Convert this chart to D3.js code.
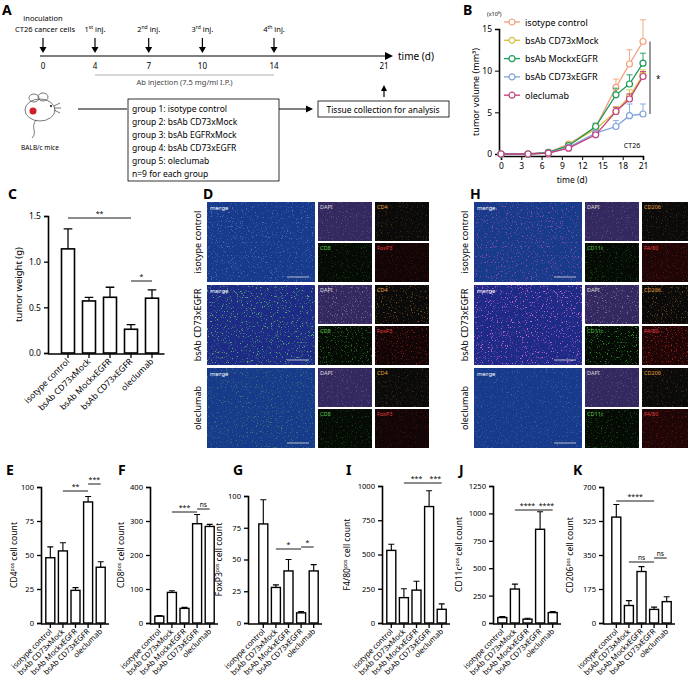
<!DOCTYPE html>
<html><head><meta charset="utf-8">
<script src="https://cdn.jsdelivr.net/npm/d3@7"></script>
<style>body{margin:0;background:#fff}svg{font-family:"Noto Sans",sans-serif}</style>
</head><body>
<svg id="fig" width="688" height="688"></svg>
<script>
(function(){
  'use strict';

  // ---- data ----
  var groups = ["isotype control","bsAb CD73xMock","bsAb MockxEGFR","bsAb CD73xEGFR","oleclumab"];
  var groupColors = ["#f2a07b","#d8c03c","#1f9a5a","#7fa2dc","#c0407e"];

  var schedDays = [0,4,7,10,14,21];
  var injLabels = [["1","st"],["2","nd"],["3","rd"],["4","th"]];
  var groupLines = ["group 1: isotype control","group 2: bsAb CD73xMock","group 3: bsAb EGFRxMock",
                    "group 4: bsAb CD73xEGFR","group 5: oleclumab","n=9 for each group"];

  var growthDays = [0,4,7,10,14,17,19,21];
  var growthMean = [
    [0,0,0.2,1.2,3.2,8.0,10.8,13.5],
    [0,0,0.1,1.1,3.0,5.1,6.9,9.5],
    [0,0,0.2,1.0,3.3,7.1,8.4,10.9],
    [0,0,0.1,0.8,2.5,3.3,4.6,4.8],
    [0,0,0.1,0.7,2.3,5.1,6.6,9.3]
  ];
  var growthErr = [
    [0,0,0.1,0.2,0.4,1.0,1.7,2.6],
    [0,0,0.1,0.2,0.3,0.6,0.8,0.6],
    [0,0,0.1,0.2,0.4,0.8,1.1,1.2],
    [0,0,0.1,0.1,0.2,0.7,1.4,1.2],
    [0,0,0.1,0.1,0.2,0.5,0.6,0.6]
  ];
  var growthTicksX = [0,3,6,9,12,15,18,21];
  var growthTicksY = [0,5,10,15];

  var weightMean = [1.14,0.57,0.61,0.26,0.60];
  var weightErr  = [0.22,0.04,0.11,0.05,0.09];

  var cd4Mean = [48,53,24,89,41],       cd4Err = [8,6,2,4,4];
  var cd8Mean = [20,90,43,292,284],     cd8Err = [2,5,3,27,6];
  var foxMean = [78,28,41,8,41],        foxErr = [19,2,9,1,5];
  var f480Mean = [530,185,240,850,100], f480Err = [45,65,65,115,40];
  var cd11Mean = [50,310,35,855,95],    cd11Err = [8,45,8,160,10];
  var cd206Mean = [545,90,265,70,110],  cd206Err = [65,25,25,12,25];

  var svg = d3.select("#fig");

  // speckle texture for the micrographs (noise used as alpha mask on the fill colour)
  var defs = svg.append("defs");
  var flt = defs.append("filter").attr("id","speck").attr("x",0).attr("y",0).attr("width",1).attr("height",1);
  flt.append("feTurbulence").attr("type","fractalNoise").attr("baseFrequency",0.8).attr("numOctaves",2).attr("seed",3).attr("result","n");
  flt.append("feColorMatrix").attr("in","n").attr("type","matrix")
    .attr("values","0 0 0 0 0  0 0 0 0 0  0 0 0 0 0  7 0 0 0 -4.3").attr("result","m");
  flt.append("feComposite").attr("in","SourceGraphic").attr("in2","m").attr("operator","in");

  function letter(t,x,y){
    svg.append("text").attr("x",x).attr("y",y).attr("font-size",14).attr("font-weight","bold").text(t);
  }
  function arrowDown(x,y1,y2){
    svg.append("line").attr("x1",x).attr("x2",x).attr("y1",y1).attr("y2",y2-4).attr("stroke","#000").attr("stroke-width",1.2);
    svg.append("path").attr("d","M"+(x-3.5)+","+(y2-6)+"L"+(x+3.5)+","+(y2-6)+"L"+x+","+y2+"Z");
  }

  // ---- A: schedule ----
  letter("A",2,15);
  var tx = d3.scaleLinear().domain([0,4,14,21]).range([43,95,274,384]);
  svg.append("line").attr("x1",40).attr("x2",385).attr("y1",56).attr("y2",56).attr("stroke","#000").attr("stroke-width",1.2);
  svg.append("path").attr("d","M385,52L393,56L385,60Z");
  svg.append("text").attr("x",398).attr("y",60).attr("font-size",10).text("time (d)");
  svg.selectAll(".dayl").data(schedDays).enter().append("text")
    .attr("x",function(d){return tx(d);}).attr("y",69).attr("text-anchor","middle").attr("font-size",8).text(function(d){return d;});
  schedDays.slice(0,5).forEach(function(d){ arrowDown(tx(d),38,53); });
  svg.append("text").attr("x",tx(0)).attr("y",21).attr("text-anchor","middle").attr("font-size",7.5).text("inoculation");
  svg.append("text").attr("x",tx(0)+2).attr("y",32).attr("text-anchor","middle").attr("font-size",7.5).text("CT26 cancer cells");
  injLabels.forEach(function(l,i){
    var t = svg.append("text").attr("x",tx(schedDays[i+1])).attr("y",32).attr("text-anchor","middle").attr("font-size",7.5);
    t.append("tspan").text(l[0]);
    t.append("tspan").attr("dy",-3).attr("font-size",5).text(l[1]);
    t.append("tspan").attr("dy",3).text(" inj.");
  });
  svg.append("line").attr("x1",tx(4)).attr("x2",tx(14)).attr("y1",75).attr("y2",75).attr("stroke","#999").attr("stroke-width",0.8);
  svg.append("text").attr("x",(tx(4)+tx(14))/2).attr("y",85).attr("text-anchor","middle").attr("font-size",7.5).attr("fill","#444").text("Ab injection (7.5 mg/ml I.P.)");
  svg.append("line").attr("x1",tx(21)).attr("x2",tx(21)).attr("y1",97).attr("y2",89).attr("stroke","#000").attr("stroke-width",1.2);
  svg.append("path").attr("d","M"+(tx(21)-3)+",91L"+(tx(21)+3)+",91L"+tx(21)+",85Z");
  // mouse
  var m = svg.append("g").attr("transform","translate(40,108)").attr("fill","none").attr("stroke","#555").attr("stroke-width",0.8);
  m.append("ellipse").attr("cx",0).attr("cy",2).attr("rx",15).attr("ry",11);
  m.append("ellipse").attr("cx",-6).attr("cy",-10).attr("rx",5).attr("ry",4);
  m.append("ellipse").attr("cx",3).attr("cy",-11).attr("rx",5).attr("ry",4);
  m.append("path").attr("d","M-4,12C-10,20 -2,24 -8,30");
  m.append("path").attr("d","M14,-2l6,-3M14,0l7,0M14,2l6,3");
  m.append("circle").attr("cx",-7).attr("cy",3).attr("r",3.5).attr("fill","#d0202a").attr("stroke","none");
  m.append("circle").attr("cx",11).attr("cy",-2).attr("r",1).attr("fill","#000").attr("stroke","none");
  svg.append("text").attr("x",40).attr("y",150).attr("text-anchor","middle").attr("font-size",6.5).text("BALB/c mice");
  svg.append("line").attr("x1",78).attr("x2",127).attr("y1",109).attr("y2",109).attr("stroke","#000").attr("stroke-width",1);
  svg.append("rect").attr("x",128).attr("y",99).attr("width",151).attr("height",82).attr("fill","#fff").attr("stroke","#000").attr("stroke-width",0.8);
  svg.selectAll(".gl").data(groupLines).enter().append("text")
    .attr("x",132).attr("y",function(d,i){return 112+i*13;}).attr("font-size",8.5).text(function(d){return d;});
  svg.append("line").attr("x1",279).attr("x2",306).attr("y1",109).attr("y2",109).attr("stroke","#000").attr("stroke-width",1);
  svg.append("path").attr("d","M306,105.5L313,109L306,112.5Z");
  svg.append("rect").attr("x",318).attr("y",101).attr("width",131).attr("height",16).attr("fill","#fff").attr("stroke","#000").attr("stroke-width",0.8);
  svg.append("text").attr("x",383).attr("y",112.5).attr("text-anchor","middle").attr("font-size",8.5).text("Tissue collection for analysis");

  // ---- B: growth curves ----
  letter("B",463,15);
  var bx = d3.scaleLinear().domain([0,21]).range([501,643]);
  var by = d3.scaleLinear().domain([0,15]).range([154,29]);
  var gB = svg.append("g");
  gB.append("g").attr("transform","translate(0,156)").call(d3.axisBottom(bx).tickValues(growthTicksX).tickSize(4))
    .call(function(a){a.select(".domain").attr("stroke-width",1.6); a.selectAll("text").attr("font-size",8.5).attr("font-family","Noto Sans");});
  gB.append("g").attr("transform","translate(499,0)").call(d3.axisLeft(by).tickValues(growthTicksY).tickSize(4))
    .call(function(a){a.select(".domain").attr("stroke-width",1.6); a.selectAll("text").attr("font-size",8.5).attr("font-family","Noto Sans");});
  svg.append("text").attr("x",487).attr("y",16).attr("font-size",5.5).text("(x10³)");
  svg.append("text").attr("transform","translate(479,92) rotate(-90)").attr("text-anchor","middle").attr("font-size",9).text("tumor volume (mm³)");
  svg.append("text").attr("x",572).attr("y",183).attr("text-anchor","middle").attr("font-size",8.5).text("time (d)");
  svg.append("text").attr("x",632).attr("y",148).attr("text-anchor","middle").attr("font-size",7).text("CT26");
  var line = d3.line().x(function(d,i){return bx(growthDays[i]);}).y(function(d){return by(d);});
  growthMean.forEach(function(ser,k){
    var col = groupColors[k];
    var g = gB.append("g");
    g.selectAll(".eb").data(ser).enter().append("path")
      .attr("d",function(d,i){var x=bx(growthDays[i]),y2=by(d+growthErr[k][i]);return "M"+x+","+by(d)+"V"+y2+"M"+(x-3)+","+y2+"H"+(x+3);})
      .attr("stroke",col).attr("stroke-width",0.9).attr("fill","none");
    g.append("path").attr("d",line(ser)).attr("stroke",col).attr("stroke-width",1.3).attr("fill","none");
    g.selectAll("circle").data(ser).enter().append("circle")
      .attr("cx",function(d,i){return bx(growthDays[i]);}).attr("cy",function(d){return by(d);})
      .attr("r",3).attr("fill","#fff").attr("stroke",col).attr("stroke-width",1.2);
  });
  var leg = svg.selectAll(".leg").data(groups).enter().append("g")
    .attr("transform",function(d,i){return "translate(512,"+(22+i*18.3)+")";});
  leg.append("line").attr("x1",-8).attr("x2",8).attr("stroke",function(d,i){return groupColors[i];}).attr("stroke-width",1.3);
  leg.append("circle").attr("r",3).attr("fill","#fff").attr("stroke",function(d,i){return groupColors[i];}).attr("stroke-width",1.2);
  leg.append("text").attr("x",13).attr("y",3.5).attr("font-size",9).text(function(d){return d;});
  svg.append("line").attr("x1",650).attr("x2",650).attr("y1",by(13.5)).attr("y2",by(4.8)).attr("stroke","#000").attr("stroke-width",0.8);
  svg.append("text").attr("x",656).attr("y",82).attr("font-size",8).text("*");

  // ---- bar chart helper ----
  function barPanel(o){
    var x = d3.scaleBand().domain(groups).range([o.x0, o.x0 + o.step*5]).paddingInner(1 - o.bw/o.step).paddingOuter((1 - o.bw/o.step)/2);
    var y = d3.scaleLinear().domain([0,o.max]).range([o.y0,o.y1]);
    var g = svg.append("g");
    g.selectAll(".bar").data(o.mean).enter().append("rect")
      .attr("x",function(d,i){return x(groups[i]);}).attr("width",x.bandwidth())
      .attr("y",function(d){return y(d);}).attr("height",function(d){return o.y0-y(d);})
      .attr("fill","#fff").attr("stroke","#000").attr("stroke-width",o.sw);
    g.selectAll(".err").data(o.mean).enter().append("path")
      .attr("d",function(d,i){var cx=x(groups[i])+x.bandwidth()/2,ye=y(d+o.err[i]);return "M"+cx+","+y(d)+"V"+ye+"M"+(cx-x.bandwidth()/3)+","+ye+"H"+(cx+x.bandwidth()/3);})
      .attr("stroke","#000").attr("stroke-width",o.sw*0.8).attr("fill","none");
    g.append("g").attr("transform","translate("+o.ax+",0)").call(d3.axisLeft(y).tickValues(o.ticks).tickSize(4).tickFormat(o.fmt||d3.format("d")))
      .call(function(a){a.select(".domain").attr("stroke-width",1.6); a.selectAll("line").attr("stroke-width",1.3); a.selectAll("text").attr("font-size",o.fs).attr("font-family","Noto Sans");});
    g.append("line").attr("x1",o.ax).attr("x2",o.x0+o.step*5+2).attr("y1",o.y0+1).attr("y2",o.y0+1).attr("stroke","#000").attr("stroke-width",1.6);
    groups.forEach(function(gname){
      var cx = x(gname)+x.bandwidth()/2;
      g.append("line").attr("x1",cx).attr("x2",cx).attr("y1",o.y0+1).attr("y2",o.y0+5).attr("stroke","#000").attr("stroke-width",1.3);
      g.append("text").attr("transform","translate("+(cx+2)+","+(o.y0+9)+") rotate(-45)")
        .attr("text-anchor","end").attr("font-size",o.fs).text(gname);
    });
    var lab = g.append("text").attr("transform","translate("+o.lx+","+((o.y0+o.y1)/2)+") rotate(-90)")
      .attr("text-anchor","middle").attr("font-size",o.fs+1);
    lab.append("tspan").text(o.label[0]);
    if(o.label[1]){
      lab.append("tspan").attr("dy",-3).attr("font-size",5).text(o.label[1]);
      lab.append("tspan").attr("dy",3).text(o.label[2]);
    }
    (o.sig||[]).forEach(function(s){
      var xa = x(groups[s[0]])+x.bandwidth()/2, xb = x(groups[s[1]])+x.bandwidth()/2;
      g.append("line").attr("x1",xa).attr("x2",xb).attr("y1",s[2]).attr("y2",s[2]).attr("stroke","#000").attr("stroke-width",0.9);
      g.append("text").attr("x",(xa+xb)/2).attr("y",s[2]-2).attr("text-anchor","middle").attr("font-size",s[3]==="ns"?6.5:7).text(s[3]);
    });
  }

  // ---- C ----
  letter("C",8,199);
  barPanel({x0:57.5,step:21,bw:13,y0:353,y1:216,max:1.5,ticks:[0,0.5,1,1.5],fmt:d3.format(".1f"),ax:48,fs:8.5,sw:1.6,
    mean:weightMean,err:weightErr,lx:22,label:["tumor weight (g)"],
    sig:[[0,3,218,"**"],[3,4,281,"*"]]});

  // ---- D / H micrographs ----
  function micro(x0,label,rowsLabels,chans,speckColors){
    var rowsY = [202,285,368];
    letter(label, x0-4, 199);
    rowsLabels.forEach(function(rl,r){
      var y0 = rowsY[r];
      svg.append("text").attr("transform","translate("+(x0-6)+","+(y0+40)+") rotate(-90)")
        .attr("text-anchor","middle").attr("font-size",9).text(rl);
      svg.append("rect").attr("x",x0).attr("y",y0).attr("width",108).attr("height",80).attr("fill",r===1?"#1d2a86":"#173a8a");
      svg.append("rect").attr("x",x0).attr("y",y0).attr("width",108).attr("height",80)
        .attr("fill",speckColors[r]).attr("opacity",r===1?0.9:0.6).attr("filter","url(#speck)");
      svg.append("line").attr("x1",x0+80).attr("x2",x0+102).attr("y1",y0+75).attr("y2",y0+75).attr("stroke","#ddd").attr("stroke-width",0.8);
      svg.append("text").attr("x",x0+3).attr("y",y0+8).attr("font-size",6).attr("fill","#fff").text("merge");
      chans.forEach(function(c,k){
        var sx = x0+111+(k%2)*57, sy = y0+(k<2?0:41);
        svg.append("rect").attr("x",sx).attr("y",sy).attr("width",54).attr("height",39).attr("fill",c[2]);
        svg.append("rect").attr("x",sx).attr("y",sy).attr("width",54).attr("height",39)
          .attr("fill",c[3]).attr("opacity",r===1?0.8:0.4).attr("filter","url(#speck)");
        svg.append("text").attr("x",sx+2).attr("y",sy+7).attr("font-size",5.5).attr("fill",c[1]).text(c[0]);
      });
    });
  }
  micro(207,"D",["isotype control","bsAb CD73xEGFR","oleclumab"],
    [["DAPI","#ddd","#34295e","#8a7ac0"],["CD4","#e8a23a","#0a0a0a","#8a5a20"],["CD8","#5ac94a","#050a05","#2f8a2a"],["FoxP3","#e84040","#120505","#8a2020"]],
    ["#6a8adf","#58c060","#4ca070"]);
  micro(474,"H",["isotype control","bsAb CD73xEGFR","oleclumab"],
    [["DAPI","#ddd","#34295e","#8a7ac0"],["CD206","#e8a23a","#0a0a0a","#8a5a20"],["CD11c","#5ac94a","#050a05","#30b030"],["F4/80","#e84040","#1e0606","#c02828"]],
    ["#d060c0","#e070d0","#5070c0"]);

  // ---- bottom bar panels ----
  var bottom = {y0:623,y1:487,fs:7.6,sw:1.4,bw:9,step:12.6};
  function bp(letterT,lxLetter,extra){
    letter(letterT,lxLetter,475);
    barPanel(Object.assign({},bottom,extra));
  }
  bp("E",6,{x0:44,ax:41,max:100,ticks:[0,25,50,75,100],mean:cd4Mean,err:cd4Err,lx:17,label:["CD4","pos"," cell count"],
    sig:[[1,3,491,"**"],[3,4,484,"***"]]});
  bp("F",118,{x0:153,ax:150,max:400,ticks:[0,100,200,300,400],mean:cd8Mean,err:cd8Err,lx:124,label:["CD8","pos"," cell count"],
    sig:[[1,3,512,"***"],[3,4,509,"ns"]]});
  bp("G",233,{x0:257,ax:248,y1:496,max:100,ticks:[0,25,50,75,100],mean:foxMean,err:foxErr,lx:222,label:["FoxP3","pos"," cell count"],
    sig:[[1,3,549,"*"],[3,4,547,"*"]]});
  bp("I",346,{x0:385,ax:382,y1:486,max:1000,ticks:[0,250,500,750,1000],mean:f480Mean,err:f480Err,lx:350,label:["F4/80","pos"," cell count"],
    sig:[[1,3,483,"***"],[3,4,483,"***"]]});
  bp("J",459,{x0:496,ax:493,y1:486,max:1250,ticks:[0,250,500,750,1000,1250],mean:cd11Mean,err:cd11Err,lx:462,label:["CD11c","pos"," cell count"],
    sig:[[1,3,510,"****"],[3,4,510,"****"]]});
  bp("K",573,{x0:610,ax:603,max:700,ticks:[0,175,350,525,700],mean:cd206Mean,err:cd206Err,lx:573,label:["CD206","pos"," cell count"],
    sig:[[0,3,501,"****"],[1,3,562,"ns"],[3,4,558,"ns"]]});
})();
</script>
</body></html>
